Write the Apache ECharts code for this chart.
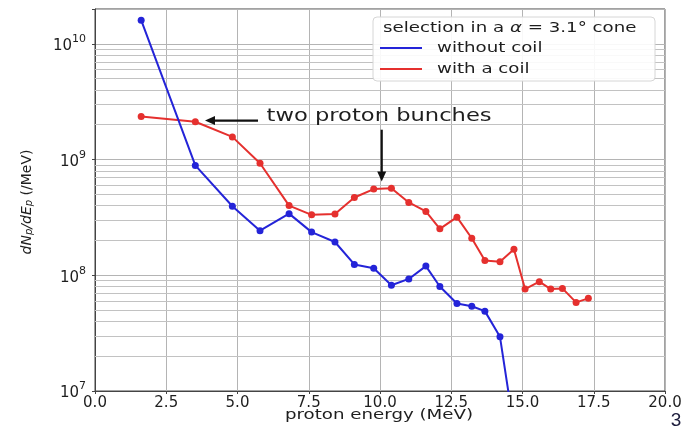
<!DOCTYPE html>
<html>
<head>
<meta charset="utf-8">
<script src="https://cdn.jsdelivr.net/npm/echarts@6/dist/echarts.min.js"></script>
<style>
  html, body { margin: 0; padding: 0; background: #fff; }
  #chart { width: 688px; height: 428px; }
</style>
</head>
<body>
<div id="chart"></div>
<script>
// Proton energy spectra (dN/dE) selected in a 3.1 degree cone
const energy = [1.62, 3.52, 4.82, 5.79, 6.81, 7.60, 8.42, 9.10, 9.78, 10.40, 11.01, 11.61,
                12.10, 12.70, 13.22, 13.68, 14.21, 14.70, 15.09, 15.59, 15.99, 16.40, 16.88, 17.31];
const withoutCoil = [1.6e10, 8.9e8, 3.95e8, 2.43e8, 3.41e8, 2.36e8, 1.94e8, 1.24e8, 1.15e8, 8.2e7,
                     9.3e7, 1.2e8, 8.0e7, 5.7e7, 5.4e7, 4.9e7, 2.94e7, 4.75e6];
const withCoil = [2.36e9, 2.12e9, 1.57e9, 9.3e8, 4.0e8, 3.33e8, 3.38e8, 4.7e8, 5.56e8, 5.66e8,
                  4.26e8, 3.56e8, 2.52e8, 3.18e8, 2.09e8, 1.34e8, 1.31e8, 1.68e8, 7.6e7, 8.8e7,
                  7.6e7, 7.7e7, 5.83e7, 6.32e7];
const xTicks = [0, 2.5, 5, 7.5, 10, 12.5, 15, 17.5, 20];
const yRange = [1e7, 2e10];
const seriesNames = ['without coil', 'with a coil'];
const legendTitle = 'selection in a {m|α} = 3.1° cone';
const annotationText = 'two proton bunches';

const BLUE = '#2424d8';
const RED = '#e5302e';
const INK = '#1e1e1e';
const FONT = 'DejaVu Sans';

// minor log grid lines at 2..9 x 10^n
const minorLines = [];
for (let p = 7; p <= 10; p++) {
  for (let m = 2; m <= 9; m++) {
    const v = m * Math.pow(10, p);
    if (v < yRange[1]) minorLines.push({ yAxis: v });
  }
}

const pairs = (xs, ys) => ys.map((y, i) => [xs[i], y]);

const chart = echarts.init(document.getElementById('chart'), null, { renderer: 'canvas' });

const option = {
  animation: false,
  backgroundColor: '#fff',
  grid: {
    left: 95, right: 23, top: 9, bottom: 37,
    show: true, borderColor: '#444', borderWidth: 1, backgroundColor: 'transparent'
  },
  xAxis: {
    type: 'value',
    min: xTicks[0], max: xTicks[xTicks.length - 1], interval: 2.5,
    axisLine: { show: true, lineStyle: { color: '#444', width: 1 } },
    axisTick: { show: true, length: 3, lineStyle: { color: '#444' } },
    axisLabel: {
      margin: 5, color: INK, fontFamily: FONT, fontSize: 15,
      formatter: v => v.toFixed(1)
    },
    splitLine: { show: true, lineStyle: { color: '#b4b4b4', width: 1 } }
  },
  yAxis: {
    type: 'log', logBase: 10,
    min: yRange[0], max: yRange[1],
    axisLine: { show: true, lineStyle: { color: '#444', width: 1 } },
    axisTick: { show: true, length: 3, lineStyle: { color: '#444' } },
    axisLabel: {
      margin: 9, color: INK, fontFamily: FONT,
      formatter: function (v) {
        const lg = Math.log10(v);
        const p = Math.round(lg);
        if (Math.abs(lg - p) > 1e-6) return '';
        return '{b|10}{s|' + p + '}';
      },
      rich: {
        b: { fontFamily: FONT, fontSize: 15, color: INK, lineHeight: 20, verticalAlign: 'bottom' },
        s: { fontFamily: FONT, fontSize: 11, color: INK, lineHeight: 20, verticalAlign: 'top' }
      }
    },
    splitLine: { show: true, lineStyle: { color: '#b4b4b4', width: 1 } }
  },
  series: [
    {
      type: 'line', name: 'minor-grid', data: [], z: 1, silent: true,
      markLine: {
        silent: true, z: 1, symbol: ['none', 'none'], animation: false,
        label: { show: false },
        lineStyle: { color: '#c2c2c2', width: 1, type: 'solid' },
        data: minorLines
      }
    },
    {
      type: 'line', name: seriesNames[0], data: pairs(energy, withoutCoil), z: 4,
      symbol: 'circle', symbolSize: 7, showSymbol: true,
      lineStyle: { color: BLUE, width: 2 }, itemStyle: { color: BLUE }
    },
    {
      type: 'line', name: seriesNames[1], data: pairs(energy, withCoil), z: 3,
      symbol: 'circle', symbolSize: 7, showSymbol: true,
      lineStyle: { color: RED, width: 2 }, itemStyle: { color: RED }
    }
  ]
};
chart.setOption(option);

// annotation layer positioned from data coordinates
const px = (x, y) => chart.convertToPixel({ gridIndex: 0 }, [x, y]);
const arrowHead = (tip, dir, len, half) => {
  const [dx, dy] = dir;
  const bx = tip[0] - dx * len, by = tip[1] - dy * len;
  return [tip, [bx - dy * half, by + dx * half], [bx + dy * half, by - dx * half]];
};

const leftTip = px(3.86, 2.17e9);
const leftTail = px(5.72, 2.17e9);
const downTail = px(10.06, Math.pow(10, 9.258));
const downTip = px(10.06, Math.pow(10, 8.81));
const textAnchor = px(6.02, Math.pow(10, 9.37));

const g = [];
// arrows
g.push({ type: 'line', silent: true, z: 20,
  shape: { x1: leftTail[0], y1: leftTail[1], x2: leftTip[0] + 8, y2: leftTip[1] },
  style: { stroke: '#111', lineWidth: 2.2 } });
g.push({ type: 'polygon', silent: true, z: 20,
  shape: { points: arrowHead(leftTip, [-1, 0], 10, 4.5) }, style: { fill: '#111' } });
g.push({ type: 'line', silent: true, z: 20,
  shape: { x1: downTail[0], y1: downTail[1], x2: downTip[0], y2: downTip[1] - 8 },
  style: { stroke: '#111', lineWidth: 2.2 } });
g.push({ type: 'polygon', silent: true, z: 20,
  shape: { points: arrowHead(downTip, [0, 1], 10, 4.5) }, style: { fill: '#111' } });
g.push({ type: 'text', silent: true, z: 20, x: textAnchor[0], y: textAnchor[1], scaleX: 1.33,
  style: { text: annotationText, fontFamily: FONT, fontSize: 17, fill: INK,
           align: 'left', verticalAlign: 'middle' } });

// legend box
g.push({ type: 'rect', silent: true, z: 30,
  shape: { x: 373, y: 17, width: 282, height: 64, r: 4 },
  style: { fill: 'rgba(255,255,255,0.9)', stroke: '#d6d6d6', lineWidth: 1 } });
g.push({ type: 'text', silent: true, z: 31, x: 383, y: 28, scaleX: 1.3,
  style: { text: legendTitle, fontFamily: FONT, fontSize: 14, fill: INK,
           align: 'left', verticalAlign: 'middle',
           rich: { m: { fontFamily: FONT, fontStyle: 'italic', fontSize: 14, fill: INK } } } });
[[BLUE, 48, seriesNames[0]], [RED, 69, seriesNames[1]]].forEach(([c, y, name]) => {
  g.push({ type: 'line', silent: true, z: 31, shape: { x1: 380, y1: y, x2: 422, y2: y },
    style: { stroke: c, lineWidth: 2 } });
  g.push({ type: 'text', silent: true, z: 31, x: 437, y: y, scaleX: 1.3,
    style: { text: name, fontFamily: FONT, fontSize: 14, fill: INK,
             align: 'left', verticalAlign: 'middle' } });
});

// axis titles
g.push({ type: 'text', silent: true, z: 10, x: 379, y: 415, scaleX: 1.3,
  style: { text: 'proton energy (MeV)', fontFamily: FONT, fontSize: 14, fill: INK,
           align: 'center', verticalAlign: 'middle' } });
g.push({ type: 'text', silent: true, z: 10, x: 25, y: 202, rotation: Math.PI / 2,
  style: {
    text: '{i|dN}{sub|p}{i|/dE}{sub|p}{n| (/MeV)}',
    align: 'center', verticalAlign: 'middle',
    rich: {
      i: { fontFamily: FONT, fontStyle: 'italic', fontSize: 14, fill: INK, lineHeight: 18, verticalAlign: 'bottom' },
      sub: { fontFamily: FONT, fontStyle: 'italic', fontSize: 10, fill: INK, lineHeight: 18, verticalAlign: 'bottom' },
      n: { fontFamily: FONT, fontSize: 14, fill: INK, lineHeight: 18, verticalAlign: 'bottom' }
    }
  } });
// page number
g.push({ type: 'text', silent: true, z: 10, x: 676, y: 421,
  style: { text: '3', fontFamily: 'Liberation Sans', fontSize: 19, fill: '#1c1c3c',
           align: 'center', verticalAlign: 'middle' } });

chart.setOption({ graphic: g });
</script>
</body>
</html>
